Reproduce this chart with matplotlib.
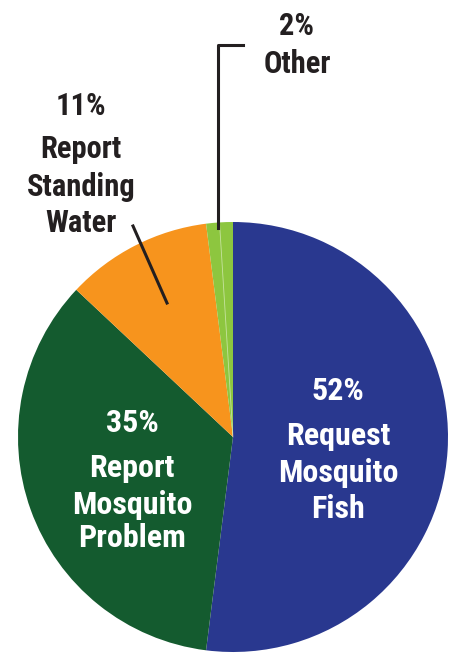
import numpy as np
import matplotlib.pyplot as plt

# share of requests by type
labels = [['Request', 'Mosquito', 'Fish'],
          ['Report', 'Mosquito', 'Problem'],
          ['Report', 'Standing', 'Water'],
          ['Other']]
shares = [52, 35, 11, 2]
colors = ['#29388F', '#145B2F', '#F7941D', '#8DC63F']

font = ['Roboto Condensed', 'Roboto', 'DejaVu Sans']

W, H = 453, 654
fig = plt.figure(figsize=(W / 100, H / 100), dpi=100)
ax = fig.add_axes([0, 0, 1, 1])

cx, cy, r = 233, H - 437, 215
wedges, _ = ax.pie(shares, colors=colors, startangle=90, counterclock=False,
                   center=(cx, cy), radius=r, frame=True,
                   wedgeprops=dict(linewidth=0))
ax.set_xlim(0, W)
ax.set_ylim(0, H)
ax.axis('off')

# faint divider inside the small slice
theta = np.deg2rad(90 + shares[3] / 100 * 180)
ax.plot([cx, cx + r * np.cos(theta)], [cy, cy + r * np.sin(theta)],
        color='white', lw=0.6, alpha=0.5)


def label(x, baselines, pct, lines, color, size):
    texts = [f'{pct}%'] + lines
    for t, b in zip(texts, baselines):
        ax.text(x, H - b, t, ha='center', va='baseline', fontsize=size,
                fontweight='bold', color=color, family=font)


label(338, [400, 445, 482, 518], shares[0], labels[0], 'white', 23)
label(132, [432, 477, 514, 547], shares[1], labels[1], 'white', 23)
label(81, [115, 158, 196, 232], shares[2], labels[2], '#231F20', 22)
label(297, [35, 73], shares[3], labels[3], '#231F20', 22)

# leader lines
ax.plot([133, 167], [H - 226, H - 303], color='#231F20', lw=2.2)
ax.plot([218, 218, 243], [H - 228, H - 45, H - 45], color='#231F20', lw=2.2)

fig.savefig('out.png', dpi=100)
